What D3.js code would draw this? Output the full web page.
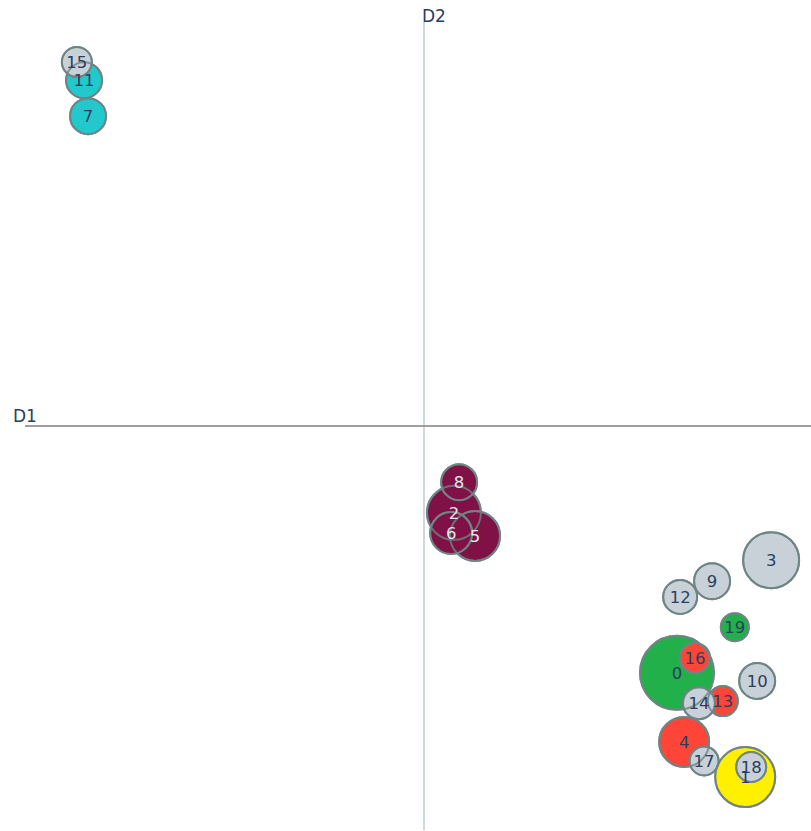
<!DOCTYPE html>
<html>
<head>
<meta charset="utf-8">
<script src="https://cdn.jsdelivr.net/npm/d3@7"></script>
<style>
  body { margin: 0; background: #fff; }
</style>
</head>
<body>
<div id="container"></div>
<script>
const topics = [0, 1, 2, 3, 4, 5, 6, 7, 8, 9, 10, 11, 12, 13, 14, 15, 16, 17, 18, 19];
const d1 = [6.34, 8.05, 0.75, 8.70, 6.52, 1.28, 0.68, -8.42, 0.88, 7.22, 8.35, -8.52, 6.42, 7.49, 6.89, -8.70, 6.79, 7.02, 8.20, 7.79];
const d2 = [-6.11, -8.69, -2.15, -3.32, -7.82, -2.72, -2.65, 7.67, -1.39, -3.84, -6.31, 8.56, -4.23, -6.81, -6.86, 9.01, -5.74, -8.29, -8.44, -4.98];
const sizes = [1369, 900, 729, 784, 625, 625, 441, 324, 324, 324, 324, 324, 289, 225, 256, 225, 225, 210, 225, 196];
const groups = ['green', 'yellow', 'maroon', 'none', 'red', 'maroon', 'maroon', 'cyan', 'maroon', 'none',
  'none', 'cyan', 'none', 'red', 'none', 'none', 'red', 'none', 'none', 'green'];

const groupColor = {
  none: '#c8d1d8',
  green: '#22b04a',
  yellow: '#fff000',
  maroon: '#7f1146',
  red: '#fe4537',
  cyan: '#22c9cc'
};

const w = 811;
const h = 831;
const font = '"DejaVu Sans", Verdana, sans-serif';

const data = topics.map((t, i) => ({ topic: t, x: d1[i], y: d2[i], size: sizes[i], group: groups[i] }));

const svg = d3.select('#container')
  .append('svg')
  .attr('width', w)
  .attr('height', h)
  .attr('viewBox', [0, 0, w, h]);

const x = d3.scaleLinear()
  .domain([-10, 10])
  .range([25, 823]);

const y = d3.scaleLinear()
  .domain([-10, 10])
  .range([830, 22]);

const r = d3.scaleSqrt()
  .domain([0, d3.max(sizes)])
  .range([0, 37]);

// the two dimension lines
svg.append('line')
  .attr('x1', x(0)).attr('x2', x(0))
  .attr('y1', y(10)).attr('y2', y(-10))
  .attr('stroke', '#CFD8DC')
  .attr('stroke-width', 2);

svg.append('line')
  .attr('x1', x(-10)).attr('x2', x(10))
  .attr('y1', y(0)).attr('y2', y(0))
  .attr('stroke', '#9E9E9E')
  .attr('stroke-width', 2);

svg.append('text')
  .attr('x', x(-10) - 12)
  .attr('y', y(0) - 4)
  .style('font-family', font)
  .style('font-size', '17px')
  .attr('fill', '#2a3f5f')
  .text('D1');

svg.append('text')
  .attr('x', x(0) - 2)
  .attr('y', y(10))
  .style('font-family', font)
  .style('font-size', '17px')
  .attr('fill', '#2a3f5f')
  .text('D2');

svg.selectAll('circle.fill')
  .data(data)
  .enter()
  .append('circle')
  .attr('class', 'fill')
  .attr('cx', d => x(d.x))
  .attr('cy', d => y(d.y))
  .attr('r', d => r(d.size))
  .attr('fill', d => groupColor[d.group])
  .attr('stroke', '#6f8585')
  .attr('stroke-width', 2);

// outlines again on top, so overlapping rings stay visible
svg.selectAll('circle.ring')
  .data(data)
  .enter()
  .append('circle')
  .attr('class', 'ring')
  .attr('cx', d => x(d.x))
  .attr('cy', d => y(d.y))
  .attr('r', d => r(d.size))
  .attr('fill', 'none')
  .attr('stroke', '#6f8585')
  .attr('stroke-opacity', 0.8)
  .attr('stroke-width', 2);

svg.selectAll('text.label')
  .data(data)
  .enter()
  .append('text')
  .attr('class', 'label')
  .attr('x', d => x(d.x))
  .attr('y', d => y(d.y))
  .attr('text-anchor', 'middle')
  .attr('dy', '0.36em')
  .style('font-family', font)
  .style('font-size', '16.5px')
  .attr('fill', d => d3.hsl(groupColor[d.group]).l < 0.35 ? '#e6e6ea' : '#2a3f5f')
  .text(d => d.topic);
</script>
</body>
</html>
